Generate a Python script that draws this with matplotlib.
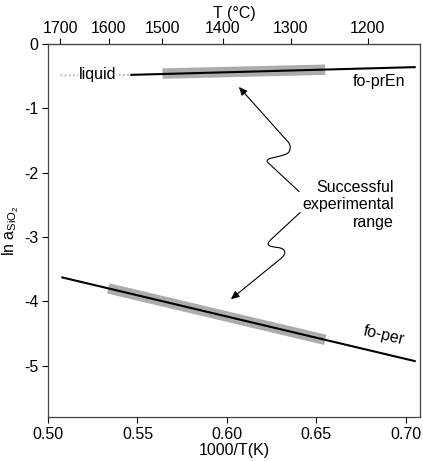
import matplotlib
matplotlib.use("Agg")
import matplotlib.pyplot as plt
import numpy as np
from matplotlib.path import Path
from matplotlib.patches import FancyArrowPatch

plt.rcParams['font.family'] = ['Liberation Sans', 'DejaVu Sans']
plt.rcParams['mathtext.fontset'] = 'custom'
plt.rcParams['mathtext.rm'] = 'Liberation Sans'
plt.rcParams['mathtext.it'] = 'Liberation Sans:italic'

# lines: 1000/T(K) vs ln a_SiO2
prEn_x = [0.5466, 0.705]
prEn_y = [-0.48, -0.36]
liquid_x = [0.507, 0.5466]
liquid_y = [-0.49, -0.48]
prEn_band_x = [0.564, 0.655]
prEn_band_y = [-0.46, -0.40]

per_x = [0.508, 0.705]
per_y = [-3.63, -4.93]
per_band_x = [0.5337, 0.655]
per_band_y = [-3.80, -4.60]

top_ticks = [1700, 1600, 1500, 1400, 1300, 1200]

FS = 11.5

fig = plt.figure(figsize=(4.23, 4.61), dpi=100)
ax = fig.add_axes([0.1135, 0.0954, 0.8795, 0.8092])

ax.plot(prEn_band_x, prEn_band_y, color='#acacac', lw=7.5, solid_capstyle='butt', zorder=2)
ax.plot(per_band_x, per_band_y, color='#acacac', lw=7.5, solid_capstyle='butt', zorder=2)
ax.plot(prEn_x, prEn_y, color='black', lw=1.5, zorder=3)
ax.plot(per_x, per_y, color='black', lw=1.5, zorder=3)
ax.plot(liquid_x, liquid_y, color='#aaaaaa', lw=1.2, ls=(0, (1, 1.5)), zorder=3)

ax.text(0.5275, -0.47, 'liquid', fontsize=FS, ha='center', va='center',
        bbox=dict(facecolor='white', edgecolor='none', pad=0.3), zorder=4)
ax.text(0.7, -0.58, 'fo-prEn', fontsize=FS, ha='right', va='center')
ax.text(0.688, -4.53, 'fo-per', fontsize=FS, ha='center', va='center', rotation=-13)
ax.text(0.6933, -2.50, 'Successful\nexperimental\nrange', fontsize=FS, ha='right',
        va='center', linespacing=1.2)

# wavy arrows
up_verts = [(0.6404, -2.295), (0.6230, -1.845),
            (0.6197, -1.752), (0.6331, -1.767), (0.6348, -1.674),
            (0.6365, -1.581), (0.6343, -1.519), (0.6326, -1.473),
            (0.6067, -0.667)]
down_verts = [(0.6410, -2.620), (0.6247, -3.039),
              (0.6213, -3.132), (0.6236, -3.147), (0.6281, -3.163),
              (0.6337, -3.178), (0.6331, -3.271), (0.6303, -3.333),
              (0.6022, -3.969)]
codes = [Path.MOVETO, Path.LINETO,
         Path.CURVE4, Path.CURVE4, Path.CURVE4,
         Path.CURVE4, Path.CURVE4, Path.CURVE4,
         Path.LINETO]
for verts in (up_verts, down_verts):
    arr = FancyArrowPatch(path=Path(verts, codes), arrowstyle='-|>,head_length=5,head_width=2.2',
                          color='black', lw=0.8, shrinkA=0, shrinkB=0)
    ax.add_patch(arr)

ax.set_xlim(0.5, 0.708)
ax.set_ylim(-5.8, 0)
ax.set_xticks([0.50, 0.55, 0.60, 0.65, 0.70])
ax.set_xticklabels(['0.50', '0.55', '0.60', '0.65', '0.70'])
ax.set_yticks([0, -1, -2, -3, -4, -5])
ax.set_yticklabels(['0', '-1', '-2', '-3', '-4', '-5'])
ax.tick_params(labelsize=FS, length=4, width=0.8, direction='out', pad=3)
ax.set_xlabel('1000/T(K)', fontsize=FS, labelpad=1)
ax.set_ylabel(r'ln $\mathregular{a_{SiO_2}}$', fontsize=FS, labelpad=2)
for s in ax.spines.values():
    s.set_color('#444444')
    s.set_linewidth(0.9)

sec = ax.secondary_xaxis('top', functions=(lambda x: 1000.0 / np.asarray(x, float) - 273.15,
                                           lambda t: 1000.0 / (np.asarray(t, float) + 273.15)))
sec.set_xticks(top_ticks)
sec.tick_params(labelsize=FS, length=4, width=0.8, direction='out', pad=2)
sec.set_xlabel('T (°C)', fontsize=FS, labelpad=2)
sec.spines['top'].set_color('#444444')

fig.savefig('out.png', dpi=100)
